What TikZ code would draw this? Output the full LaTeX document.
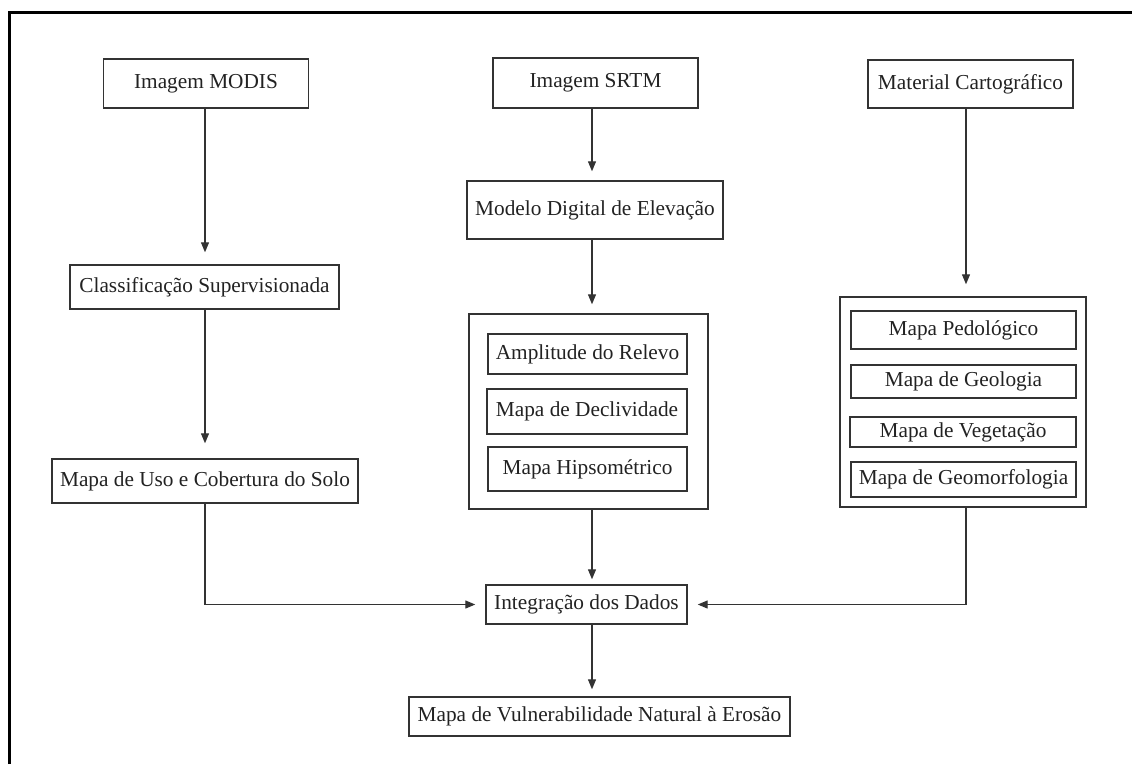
\documentclass[tikz,border=0pt]{standalone}
\usepackage{fontspec}
\setmainfont{Liberation Serif}
\usetikzlibrary{arrows.meta}
\definecolor{ln}{HTML}{333333}
\definecolor{tx}{HTML}{222222}
\begin{document}
\begin{tikzpicture}[x=1pt,y=-1pt,
  bx/.style={draw=ln, line width=1.4pt, rectangle, inner sep=0pt, text=tx,
    font=\fontsize{21.3}{25}\selectfont, align=center},
  grp/.style={draw=ln, line width=1.4pt, rectangle, inner sep=0pt},
  arr/.style={draw=ln, line width=1.2pt, -{Triangle[length=10pt,width=8pt]}},
  ln/.style={draw=ln, line width=1.2pt}]
\useasboundingbox (0,0) rectangle (1132,764);
\draw[line width=3pt, black] (9,764) -- (9,12) -- (1132,12);

% columns for connectors
\coordinate (cL) at (205,0);
\coordinate (cM) at (592,0);
\coordinate (cR) at (966,0);

\node[bx, minimum width=205pt, minimum height=49pt] (modis) at (206,83.5) {Imagem MODIS};
\node[bx, minimum width=205pt, minimum height=50pt] (srtm) at (595.5,83) {Imagem SRTM};
\node[bx, minimum width=205pt, minimum height=48pt] (mat) at (970.5,84) {Material Cartográfico};
\node[bx, minimum width=256pt, minimum height=58pt] (mde) at (595,210) {Modelo Digital de Elevação};
\node[bx, minimum width=269pt, minimum height=44pt] (class) at (204.5,287) {Classificação Supervisionada};
\node[bx, minimum width=306pt, minimum height=44pt] (uso) at (205,481) {Mapa de Uso e Cobertura do Solo};

\node[grp, minimum width=239pt, minimum height=195pt] (grpM) at (588.5,411.5) {};
\node[bx, minimum width=199pt, minimum height=40pt] (amp) at (587.5,354) {Amplitude do Relevo};
\node[bx, minimum width=200pt, minimum height=45pt] (decl) at (587,411.5) {Mapa de Declividade};
\node[bx, minimum width=199pt, minimum height=44pt] (hips) at (587.5,469) {Mapa Hipsométrico};

\node[grp, minimum width=246pt, minimum height=210pt] (grpR) at (963,402) {};
\node[bx, minimum width=225pt, minimum height=38pt] (ped) at (963.5,330) {Mapa Pedológico};
\node[bx, minimum width=225pt, minimum height=33pt] (geo) at (963.5,381.5) {Mapa de Geologia};
\node[bx, minimum width=226pt, minimum height=30pt] (veg) at (963,432) {Mapa de Vegetação};
\node[bx, minimum width=225pt, minimum height=35pt] (geom) at (963.5,479.5) {Mapa de Geomorfologia};

\node[bx, minimum width=201pt, minimum height=39pt] (integ) at (586.5,604.5) {Integração dos Dados};
\node[bx, minimum width=381pt, minimum height=39pt] (vuln) at (599.5,716.5) {Mapa de Vulnerabilidade Natural à Erosão};

% connectors
\draw[arr, shorten >=12pt] (modis.south -| cL) -- (class.north -| cL);
\draw[arr, shorten >=15pt] (class.south -| cL) -- (uso.north -| cL);
\draw[arr, shorten >=9pt] (srtm.south -| cM) -- (mde.north -| cM);
\draw[arr, shorten >=9pt] (mde.south -| cM) -- (grpM.north -| cM);
\draw[arr, shorten >=12pt] (mat.south -| cR) -- (grpR.north -| cR);
\draw[arr, shorten >=5pt] (grpM.south -| cM) -- (integ.north -| cM);
\draw[arr, shorten >=7pt] (integ.south -| cM) -- (vuln.north -| cM);
\draw[arr, shorten >=10pt] (uso.south -| cL) |- (integ.west);
\draw[arr, shorten >=10pt] (grpR.south -| cR) |- (integ.east);
\end{tikzpicture}
\end{document}
